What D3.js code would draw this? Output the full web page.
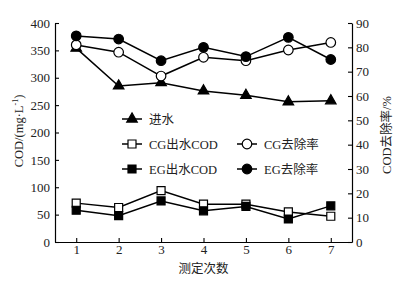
<!DOCTYPE html>
<html>
<head>
<meta charset="utf-8">
<script src="https://cdn.jsdelivr.net/npm/d3@7"></script>
<style>
  body { margin: 0; background: #fff; }
  svg { font-family: "Liberation Serif", "Noto Sans CJK SC", serif; }
</style>
</head>
<body>
<svg width="405" height="286"></svg>
<script>
var runs = [1, 2, 3, 4, 5, 6, 7];
var influent = [354, 285, 291, 276, 268, 256, 258];
var cgOut = [71, 63, 94, 69, 69, 55, 47];
var egOut = [58, 48, 75, 57, 65, 42, 66];
var cgRemoval = [81, 78, 68.2, 75.9, 74.5, 78.9, 82];
var egRemoval = [84.7, 83.4, 74.5, 80, 76.2, 84.1, 75];
var leftTicks = [0, 50, 100, 150, 200, 250, 300, 350, 400];
var rightTicks = [0, 10, 20, 30, 40, 50, 60, 70, 80, 90];

var svg = d3.select("svg");
var plotL = 55, plotR = 352, plotT = 23, plotB = 242;

var x = d3.scaleLinear().domain([0.5, 7.5]).range([plotL, plotR]);
var yL = d3.scaleLinear().domain([0, 400]).range([plotB, plotT]);
var yR = d3.scaleLinear().domain([0, 90]).range([plotB, plotT]);

var fontSize = "13px";

// axes
var gx = svg.append("g").attr("transform", "translate(0," + plotB + ")")
    .call(d3.axisBottom(x).tickValues(runs).tickSizeInner(-4).tickSizeOuter(0).tickPadding(3).tickFormat(d3.format("d")));
var gl = svg.append("g").attr("transform", "translate(" + plotL + ",0)")
    .call(d3.axisLeft(yL).tickValues(leftTicks).tickSizeInner(-4).tickSizeOuter(0).tickPadding(5));
var gr = svg.append("g").attr("transform", "translate(" + plotR + ",0)")
    .call(d3.axisRight(yR).tickValues(rightTicks).tickSizeInner(-4).tickSizeOuter(0).tickPadding(4));

[gx, gl, gr].forEach(function(g) {
  g.select(".domain").attr("stroke", "#000").attr("stroke-width", 1.2);
  g.selectAll(".tick line").attr("stroke", "#000").attr("stroke-width", 1.1);
  g.selectAll("text").attr("font-size", fontSize).attr("fill", "#222")
    .attr("font-family", "Liberation Serif");
});

// axis titles
svg.append("text").attr("transform", "translate(23,131) rotate(-90)")
  .attr("text-anchor", "middle").attr("font-size", "12.5px").attr("fill", "#222")
  .html('COD/(mg·L<tspan dy="-5" font-size="8px">-1</tspan><tspan dy="5">)</tspan>');
svg.append("text").attr("transform", "translate(391,135) rotate(-90)")
  .attr("text-anchor", "middle").attr("font-size", "12.5px").attr("fill", "#222")
  .text("COD去除率/%");
svg.append("text").attr("x", (plotL + plotR) / 2).attr("y", 273)
  .attr("text-anchor", "middle").attr("font-size", "12.5px").attr("fill", "#222")
  .text("测定次数");

var tri = d3.symbol().type(d3.symbolTriangle).size(48);
var sq = d3.symbol().type(d3.symbolSquare).size(64);
var circ = d3.symbol().type(d3.symbolCircle).size(72);

var series = [
  { name: "进水", values: influent, scale: yL, sym: tri, fill: "#000" },
  { name: "CG出水COD", values: cgOut, scale: yL, sym: sq, fill: "#fff" },
  { name: "EG出水COD", values: egOut, scale: yL, sym: sq, fill: "#000" },
  { name: "CG去除率", values: cgRemoval, scale: yR, sym: circ, fill: "#fff" },
  { name: "EG去除率", values: egRemoval, scale: yR, sym: circ, fill: "#000" }
];

series.forEach(function(s) {
  var line = d3.line()
    .x(function(d, i) { return x(runs[i]); })
    .y(function(d) { return s.scale(d); });
  svg.append("path").attr("d", line(s.values))
    .attr("fill", "none").attr("stroke", "#000").attr("stroke-width", 1.5);
  svg.selectAll(null).data(s.values).enter().append("path")
    .attr("d", s.sym)
    .attr("transform", function(d, i) { return "translate(" + x(runs[i]) + "," + s.scale(d) + ")"; })
    .attr("fill", s.fill).attr("stroke", "#000").attr("stroke-width", 1.2);
});

// legend
var legendPos = [
  { s: 0, x: 122, y: 119 },
  { s: 1, x: 122, y: 144 },
  { s: 2, x: 122, y: 169 },
  { s: 3, x: 237, y: 144 },
  { s: 4, x: 237, y: 169 }
];
legendPos.forEach(function(p) {
  var s = series[p.s];
  var g = svg.append("g").attr("transform", "translate(" + p.x + "," + p.y + ")");
  g.append("line").attr("x1", 0).attr("x2", 20).attr("stroke", "#000").attr("stroke-width", 1.5);
  g.append("path").attr("d", s.sym).attr("transform", "translate(10,0)")
    .attr("fill", s.fill).attr("stroke", "#000").attr("stroke-width", 1.2);
  g.append("text").attr("x", 27).attr("y", 4.5).attr("font-size", "12.5px").attr("fill", "#222")
    .text(s.name);
});
</script>
</body>
</html>
